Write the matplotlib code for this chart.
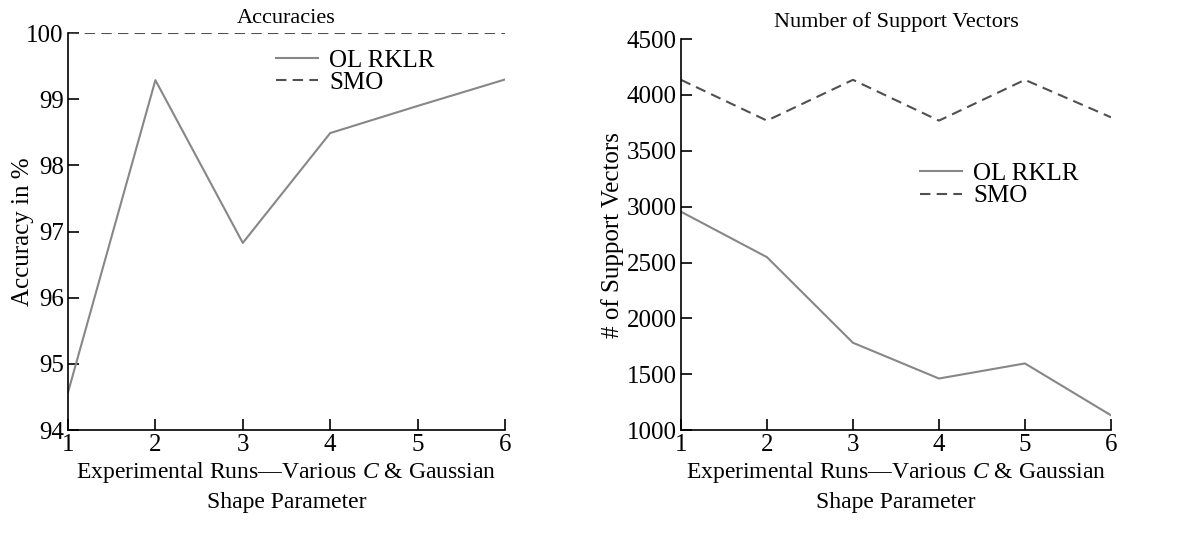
import numpy as np
import matplotlib
matplotlib.use("Agg")
import matplotlib.pyplot as plt

# === Data ===
runs = [1, 2, 3, 4, 5, 6]
acc_olrklr = [94.57, 99.29, 96.83, 98.49, 98.90, 99.30]
acc_smo = [100.0, 100.0, 100.0, 100.0, 100.0, 100.0]
sv_olrklr = [2955, 2548, 1782, 1462, 1597, 1133]
sv_smo = [4135, 3770, 4135, 3770, 4135, 3800]

acc_yticks = [94, 95, 96, 97, 98, 99, 100]
sv_yticks = [1000, 1500, 2000, 2500, 3000, 3500, 4000, 4500]

plt.rcParams['font.family'] = ['Liberation Serif', 'DejaVu Serif']
plt.rcParams['mathtext.fontset'] = 'custom'
plt.rcParams['mathtext.it'] = 'Liberation Serif:italic'
plt.rcParams['mathtext.rm'] = 'Liberation Serif'

solid_col = '#878787'
dash_col = '#505050'
xlab = "Experimental Runs\u2014Various $C$ & Gaussian\nShape Parameter"

fig = plt.figure(figsize=(12.01, 5.35), dpi=100)
ax1 = fig.add_axes([0.0566, 0.196, 0.3639, 0.742])
ax2 = fig.add_axes([0.567, 0.196, 0.358, 0.731])

# Accuracies
ax1.plot(runs, acc_olrklr, color=solid_col, lw=1.5, label='OL RKLR')
ax1.plot(runs, acc_smo, color=dash_col, lw=1.5, ls=(0, (5, 3)), label='SMO')
ax1.set_xlim(1, 6)
ax1.set_ylim(94, 100)
ax1.set_yticks(acc_yticks)
ax1.set_title("Accuracies", fontsize=16, pad=7)
ax1.set_ylabel("Accuracy in %", fontsize=18)
ax1.yaxis.set_label_coords(-0.078, 0.5)
ax1.set_xlabel(xlab, fontsize=17, linespacing=1.4, labelpad=3)
ax1.legend(loc='upper left', bbox_to_anchor=(0.452, 0.985), frameon=False,
           fontsize=18, handlelength=1.7, handletextpad=0.45, labelspacing=0.0,
           borderaxespad=0)

# Number of support vectors
ax2.plot(runs, sv_olrklr, color=solid_col, lw=1.5, label='OL RKLR')
ax2.plot(runs, sv_smo, color=dash_col, lw=1.5, ls=(0, (5, 3)), label='SMO')
ax2.set_xlim(1, 6)
ax2.set_ylim(1000, 4500)
ax2.set_yticks(sv_yticks)
ax2.set_title("Number of Support Vectors", fontsize=16, pad=9)
ax2.set_ylabel("# of Support Vectors", fontsize=18, labelpad=2)
ax2.set_xlabel(xlab, fontsize=17, linespacing=1.4, labelpad=3)
ax2.legend(loc='upper left', bbox_to_anchor=(0.532, 0.71), frameon=False,
           fontsize=18, handlelength=1.7, handletextpad=0.45, labelspacing=0.0,
           borderaxespad=0)

for ax in (ax1, ax2):
    ax.spines['top'].set_visible(False)
    ax.spines['right'].set_visible(False)
    ax.spines['left'].set_linewidth(1.2)
    ax.spines['bottom'].set_linewidth(1.2)
    ax.set_xticks(runs)
    ax.tick_params(direction='in', length=8, width=1.2, labelsize=18, pad=3)

fig.savefig("out.png", dpi=100)
